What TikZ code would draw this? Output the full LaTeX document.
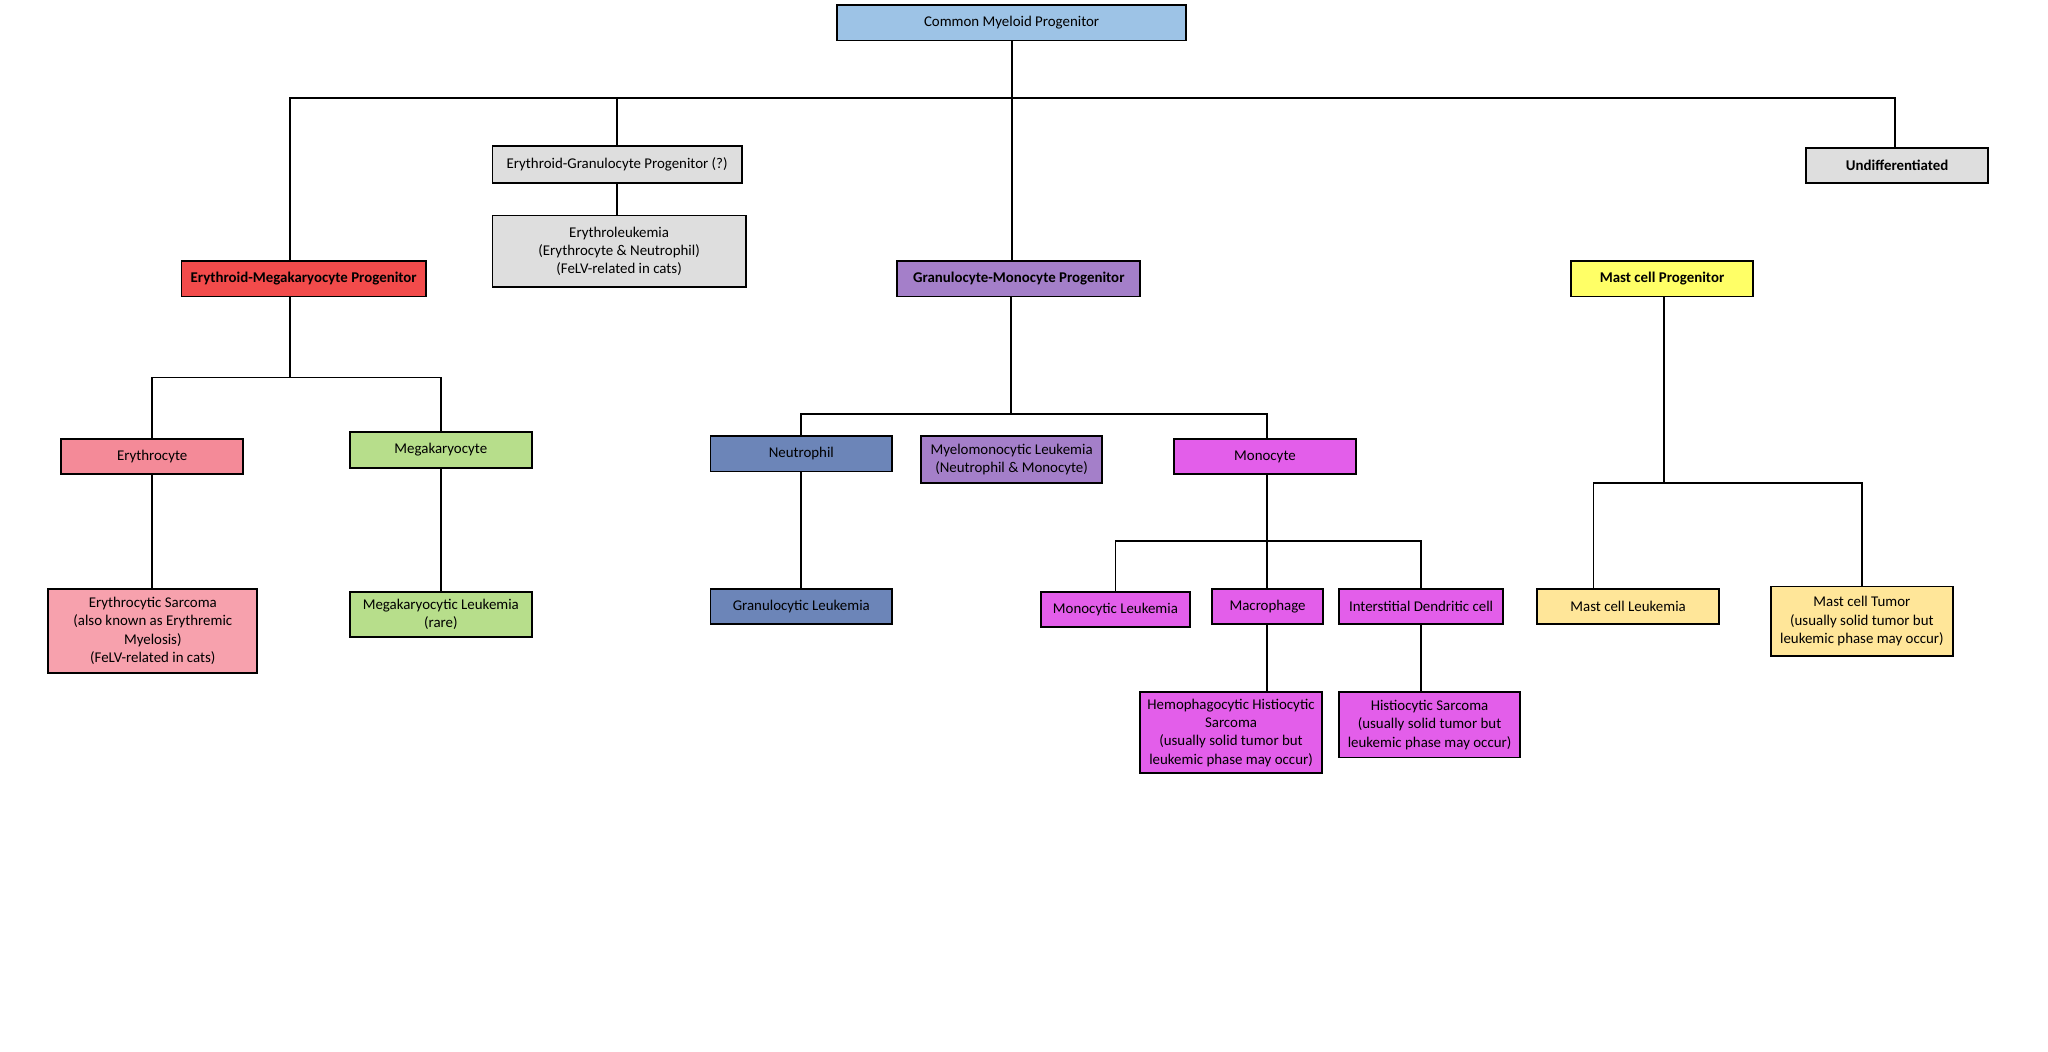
\documentclass[tikz,border=0pt]{standalone}
\usepackage{fontspec}
\setmainfont{Carlito}
\definecolor{cmpblue}{HTML}{9DC3E6}
\definecolor{empred}{HTML}{F24B4B}
\definecolor{graybox}{HTML}{DEDEDE}
\definecolor{gmppurple}{HTML}{A47FC9}
\definecolor{mastyellow}{HTML}{FFFF66}
\definecolor{erypink}{HTML}{F48A98}
\definecolor{sarcpink}{HTML}{F7A1AD}
\definecolor{megagreen}{HTML}{B7DE8B}
\definecolor{neutblue}{HTML}{6C85B8}
\definecolor{monomag}{HTML}{E35EEA}
\definecolor{mastlight}{HTML}{FFE699}
\tikzset{
  box/.style={rectangle,draw=black,line width=0.7pt,align=center,inner sep=1pt,
    font=\fontsize{5.7}{7}\selectfont,minimum width=69.5pt,minimum height=13.5pt},
  bbox/.style={box,font=\fontsize{5.7}{7}\selectfont\bfseries},
  link/.style={line width=0.7pt}
}
\begin{document}
\begin{tikzpicture}[x=0.5pt,y=-0.5pt]
\useasboundingbox (0,0) rectangle (1568,805);
% top level
\node[box,fill=cmpblue,minimum width=133.5pt] (cmp) at (774.5,17.5) {Common Myeloid Progenitor};
\node[bbox,fill=empred,minimum width=93.5pt] (emp) at (232.5,213.5) {Erythroid-Megakaryocyte Progenitor};
\node[box,fill=graybox,minimum width=95.5pt,minimum height=14pt] (egp) at (472.5,126) {Erythroid-Granulocyte Progenitor (?)};
\node[box,fill=graybox,minimum width=97pt,minimum height=27.5pt] (eleuk) at (474,192.5) {Erythroleukemia\\(Erythrocyte \& Neutrophil)\\(FeLV-related in cats)};
\node[bbox,fill=gmppurple,minimum width=93pt] (gmp) at (780,213.5) {Granulocyte-Monocyte Progenitor};
\node[bbox,fill=mastyellow] (mcp) at (1272.5,213.5) {Mast cell Progenitor};
\node[bbox,fill=graybox] (undiff) at (1452.5,126.5) {Undifferentiated};
% erythroid branch
\node[box,fill=erypink] (ery) at (116.5,349.5) {Erythrocyte};
\node[box,fill=megagreen] (mega) at (337.5,344.5) {Megakaryocyte};
\node[box,fill=sarcpink,minimum width=80pt,minimum height=32pt] (esarc) at (117,483) {Erythrocytic Sarcoma\\(also known as Erythremic\\Myelosis)\\(FeLV-related in cats)};
\node[box,fill=megagreen,minimum height=17.5pt] (mleuk) at (337.5,470.5) {Megakaryocytic Leukemia\\(rare)};
% granulocyte-monocyte branch
\node[box,fill=neutblue] (neut) at (613.5,347.5) {Neutrophil};
\node[box,fill=gmppurple,minimum height=18pt] (mmleuk) at (774.5,352) {Myelomonocytic Leukemia\\(Neutrophil \& Monocyte)};
\node[box,fill=monomag] (mono) at (968.5,349.5) {Monocyte};
\node[box,fill=neutblue] (gleuk) at (613.5,464.5) {Granulocytic Leukemia};
\node[box,fill=monomag,minimum width=57pt] (monleuk) at (854,466.5) {Monocytic Leukemia};
\node[box,fill=monomag,minimum width=42.5pt] (macro) at (970.5,464.5) {Macrophage};
\node[box,fill=monomag,minimum width=63pt] (idc) at (1088,464.5) {Interstitial Dendritic cell};
\node[box,fill=monomag,minimum height=31pt] (hemo) at (942.5,561) {Hemophagocytic Histiocytic\\Sarcoma\\(usually solid tumor but\\leukemic phase may occur)};
\node[box,fill=monomag,minimum height=25pt] (histio) at (1094.5,555) {Histiocytic Sarcoma\\(usually solid tumor but\\leukemic phase may occur)};
% mast cell branch
\node[box,fill=mastlight] (mcleuk) at (1246.5,464.5) {Mast cell Leukemia};
\node[box,fill=mastlight,minimum height=26.5pt] (mctumor) at (1425.5,475.5) {Mast cell Tumor\\(usually solid tumor but\\leukemic phase may occur)};
% connectors
\coordinate (bar1) at (774,75);
\coordinate (bar2) at (222,289);
\coordinate (bar3) at (774,317);
\coordinate (bar4) at (970,414);
\coordinate (bar5) at (1274,370);
\draw[link] (cmp.south) -- (gmp.north -| cmp.south);
\draw[link] (emp.north -| bar2) |- (bar1) -| (undiff.north -| 1451,0);
\draw[link] (egp.north) -- (egp.north |- bar1);
\draw[link] (mcp.north -| bar5) -- (mcp.north -| bar5 |- bar1);
\draw[link] (egp.south) -- (eleuk.north -| egp.south);
\draw[link] (emp.south -| bar2) -- (bar2);
\draw[link] (ery.north) |- (bar2) -| (mega.north);
\draw[link] (ery.south) -- (esarc.north -| ery.south);
\draw[link] (mega.south) -- (mleuk.north -| mega.south);
\draw[link] (gmp.south -| bar3) -- (bar3);
\draw[link] (neut.north) |- (bar3) -| (mono.north -| bar4);
\draw[link] (neut.south) -- (gleuk.north);
\draw[link] (mono.south -| bar4) -- (bar4);
\draw[link] (monleuk.north) |- (bar4) -| (idc.north);
\draw[link] (bar4) -- (macro.north -| bar4);
\draw[link] (macro.south -| bar4) -- (hemo.north -| bar4);
\draw[link] (idc.south) -- (histio.north -| idc.south);
\draw[link] (mcp.south -| bar5) -- (bar5);
\draw[link] (mcleuk.north -| 1220,0) |- (bar5) -| (mctumor.north);
\end{tikzpicture}
\end{document}
